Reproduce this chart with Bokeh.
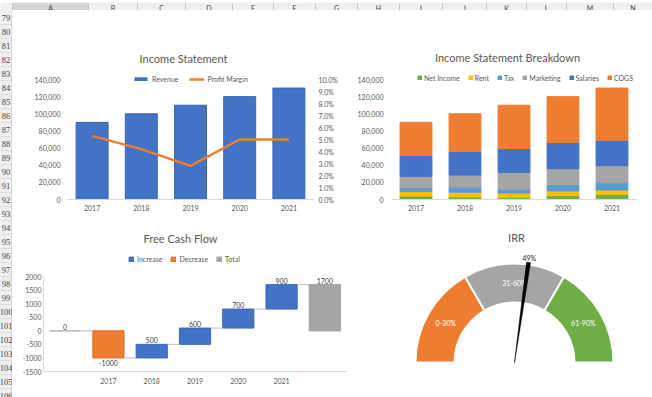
import math
from bokeh.plotting import figure
from bokeh.models import (Range1d, FactorRange, LinearAxis, FixedTicker, NumeralTickFormatter,
                          PrintfTickFormatter, Legend, LegendItem, Label, ColumnDataSource)
from bokeh.layouts import row, column
from bokeh.embed import file_html
from bokeh.resources import INLINE
from bokeh.core.properties import value

# ---------------- data ----------------
years = ["2017", "2018", "2019", "2020", "2021"]
revenue = [90000, 100000, 110000, 120000, 130000]
profit_margin = [5.3, 4.2, 2.8, 5.0, 5.0]          # percent

breakdown_series = ["Net Income", "Rent", "Tax", "Marketing", "Salaries", "COGS"]
net_income = [4000, 3000, 2500, 4500, 6000]
rent = [5500, 5500, 5000, 5500, 5000]
tax = [4500, 6000, 4500, 7500, 8500]
marketing = [13000, 14000, 19500, 18500, 20000]
salaries = [24500, 27500, 28000, 30500, 29500]
cogs = [38500, 44000, 50500, 53500, 61000]

fcf_labels = ["", "2017", "2018", "2019", "2020", "2021", ""]
fcf_start = 0
fcf_changes = [-1000, 500, 600, 700, 900]

irr_bands = ["0-30%", "31-60%", "61-90%"]
irr_band_sizes = [30, 30, 30]
irr_value = 49

col_letters = ["A", "B", "C", "D", "E", "F", "G", "H", "I", "J", "K", "L", "M", "N"]
row_numbers = list(range(79, 107))

# ---------------- style ----------------
FONT = "Lato"
TXT = "#595959"
BLUE, ORANGE, GRAY, YELLOW, LBLUE, GREEN = "#4472C4", "#ED7D31", "#A5A5A5", "#FFC000", "#5B9BD5", "#70AD47"
AXLINE = "#D9D9D9"
COL_EDGES = [12, 88, 137, 185, 232, 273, 315, 357, 399, 442, 486, 526, 566, 613, 652]

W_L, W_R, H_T, H_B = 338, 302, 212, 175
TOP_BOTTOM_BORDER = 23      # px below the top charts' frame
TOP_SCALE_PX = 120          # px between 0 and 140,000 in the top charts
FCF_BOTTOM_BORDER = 26
FCF_SCALE_PX = 95           # px between -1500 and 2000
TITLE_SIZE = "11px"


def style_axis(ax, standoff, line_color=None):
    ax.major_tick_line_color = None
    ax.minor_tick_line_color = None
    ax.major_tick_in = 0
    ax.major_tick_out = 0
    ax.minor_tick_out = 0
    ax.axis_line_color = line_color
    ax.major_label_text_font = FONT
    ax.major_label_text_font_size = "7px"
    ax.major_label_text_color = TXT
    ax.major_label_standoff = standoff


def base_fig(**kw):
    p = figure(output_backend="svg", toolbar_location=None, outline_line_color=None,
               background_fill_color="white", border_fill_color="white", frame_align=False, **kw)
    p.xgrid.visible = False
    p.ygrid.visible = False
    return p


def title_label(p, text, x, y, size=TITLE_SIZE):
    p.add_layout(Label(x=x, y=y, x_units="screen", y_units="screen", text=text,
                       text_align="center", text_baseline="middle", text_font=FONT,
                       text_font_size=size, text_color=TXT))


def make_legend(items, x, y, gw, gh, spacing, standoff):
    lg = Legend(items=items, orientation="horizontal", location=(x, y))
    lg.border_line_color = None
    lg.background_fill_alpha = 0
    lg.padding = 0
    lg.margin = 0
    lg.spacing = spacing
    lg.label_standoff = standoff
    lg.glyph_width = gw
    lg.glyph_height = gh
    lg.label_height = 9
    lg.label_width = 0
    lg.label_text_font = FONT
    lg.label_text_font_size = "7px"
    lg.label_text_color = TXT
    return lg


# frame of the top charts spans the whole height above the axis, so texts above the bars are not clipped
top_frame_h = H_T - TOP_BOTTOM_BORDER
top_y_end = 140000 * top_frame_h / TOP_SCALE_PX

# ---------------- Income Statement ----------------
p1 = base_fig(width=W_L, height=H_T, x_range=FactorRange(*years), y_range=Range1d(0, top_y_end),
              min_border_left=55, min_border_right=37, min_border_top=0, min_border_bottom=TOP_BOTTOM_BORDER)
p1.extra_y_ranges = {"pm": Range1d(0, 10 * top_frame_h / TOP_SCALE_PX)}
r_rev = p1.vbar(x=years, top=revenue, width=0.65, fill_color=BLUE, line_color="#3A66B5")
r_pm = p1.line(x=years, y=profit_margin, y_range_name="pm", line_color=ORANGE, line_width=2.5)
p1.yaxis.ticker = FixedTicker(ticks=list(range(0, 140001, 20000)))
p1.yaxis.formatter = NumeralTickFormatter(format="0,0")
style_axis(p1.yaxis[0], 7)
style_axis(p1.xaxis[0], 5, AXLINE)
ax_r = LinearAxis(y_range_name="pm", ticker=FixedTicker(ticks=list(range(0, 11))),
                  formatter=PrintfTickFormatter(format="%.1f%%"))
style_axis(ax_r, 5)
p1.add_layout(ax_r, "right")
p1.add_layout(make_legend([LegendItem(label="Revenue", renderers=[r_rev]),
                           LegendItem(label="Profit Margin", renderers=[r_pm])],
                          66, 116, 15, 4, 10, 4))
title_label(p1, "Income Statement", 116, 141)

# ---------------- Income Statement Breakdown ----------------
src2 = ColumnDataSource(dict(years=years, **{"Net Income": net_income, "Rent": rent, "Tax": tax,
                                             "Marketing": marketing, "Salaries": salaries, "COGS": cogs}))
p2 = base_fig(width=W_R, height=H_T, x_range=FactorRange(*years), y_range=Range1d(0, top_y_end),
              min_border_left=41, min_border_right=16, min_border_top=0, min_border_bottom=TOP_BOTTOM_BORDER)
rs = p2.vbar_stack(breakdown_series, x="years", width=0.65, source=src2,
                   color=[GREEN, YELLOW, LBLUE, GRAY, BLUE, ORANGE])
p2.yaxis.ticker = FixedTicker(ticks=list(range(0, 140001, 20000)))
p2.yaxis.formatter = NumeralTickFormatter(format="0,0")
style_axis(p2.yaxis[0], 8)
style_axis(p2.xaxis[0], 5, AXLINE)
p2.add_layout(make_legend([LegendItem(label=s, renderers=[r]) for s, r in zip(breakdown_series, rs)],
                          26, 117, 5, 5, 8, 2))
title_label(p2, "Income Statement Breakdown", 116, 142)

# ---------------- Free Cash Flow ----------------
levels = [fcf_start]
for c in fcf_changes:
    levels.append(levels[-1] + c)
total = levels[-1]
n = len(fcf_labels)
fcf_frame_h = H_B - FCF_BOTTOM_BORDER
fcf_y_end = -1500 + 3500 * fcf_frame_h / FCF_SCALE_PX
p3 = base_fig(width=W_L, height=H_B, x_range=Range1d(-0.5, n - 0.5), y_range=Range1d(-1500, fcf_y_end),
              min_border_left=31, min_border_right=4, min_border_top=0, min_border_bottom=FCF_BOTTOM_BORDER)
inc_x, inc_b, inc_t, dec_x, dec_b, dec_t = [], [], [], [], [], []
for i, c in enumerate(fcf_changes):
    if c >= 0:
        inc_x.append(i + 1); inc_b.append(levels[i]); inc_t.append(levels[i + 1])
    else:
        dec_x.append(i + 1); dec_b.append(levels[i]); dec_t.append(levels[i + 1])
BW = 0.72
r_inc = p3.vbar(x=inc_x, bottom=inc_b, top=inc_t, width=BW, fill_color=BLUE, line_color="#3A66B5")
r_dec = p3.vbar(x=dec_x, bottom=dec_b, top=dec_t, width=BW, fill_color=ORANGE, line_color="#D96C25")
r_tot = p3.vbar(x=[0, n - 1], bottom=[0, 0], top=[fcf_start, total], width=BW,
                fill_color=GRAY, line_color=GRAY, line_width=1.2)
conn_y = list(levels)
p3.segment(x0=[i + BW / 2 for i in range(n - 1)], x1=[i + 1 - BW / 2 for i in range(n - 1)],
           y0=conn_y, y1=conn_y, line_color="#BFBFBF", line_width=1)
# data labels
all_vals = [fcf_start] + fcf_changes + [total]
up_x, up_y, up_t, dn_x, dn_y, dn_t = [], [], [], [], [], []
for i, v in enumerate(all_vals):
    if i == 0:
        top, bot = max(0, fcf_start), min(0, fcf_start)
    elif i == n - 1:
        top, bot = max(0, total), min(0, total)
    else:
        top, bot = max(levels[i - 1], levels[i]), min(levels[i - 1], levels[i])
    if v >= 0:
        up_x.append(i); up_y.append(top); up_t.append(str(v))
    else:
        dn_x.append(i); dn_y.append(bot); dn_t.append(str(v))
p3.text(x=up_x, y=up_y, text=up_t, text_align="center", text_baseline="bottom", y_offset=-1,
        text_font=value(FONT), text_font_size="7px", text_color="#404040")
p3.text(x=dn_x, y=dn_y, text=dn_t, text_align="center", text_baseline="top", y_offset=2,
        text_font=value(FONT), text_font_size="7px", text_color="#404040")
p3.yaxis.ticker = FixedTicker(ticks=list(range(-1500, 2001, 500)))
p3.yaxis.formatter = NumeralTickFormatter(format="0")
p3.yaxis.bounds = (-1500, 2000)
p3.xaxis.ticker = FixedTicker(ticks=list(range(n)))
p3.xaxis.major_label_overrides = {i: lab for i, lab in enumerate(fcf_labels)}
style_axis(p3.yaxis[0], 2, AXLINE)
style_axis(p3.xaxis[0], 6, AXLINE)
p3.add_layout(make_legend([LegendItem(label="Increase", renderers=[r_inc]),
                           LegendItem(label="Decrease", renderers=[r_dec]),
                           LegendItem(label="Total", renderers=[r_tot])],
                          85, 108, 6, 6, 8, 3))
title_label(p3, "Free Cash Flow", 137, 133)

# ---------------- IRR gauge ----------------
p4 = base_fig(width=W_R, height=H_B, x_range=Range1d(-164, 138), y_range=Range1d(-35, 140),
              x_axis_type=None, y_axis_type=None, min_border=0)
span = float(sum(irr_band_sizes))
starts, ends, mids = [], [], []
acc = 0
for s in irr_band_sizes:
    a0 = math.pi * (1 - acc / span)
    a1 = math.pi * (1 - (acc + s) / span)
    starts.append(a1); ends.append(a0); mids.append((a0 + a1) / 2)
    acc += s
R_IN, R_OUT = 60, 99
p4.annular_wedge(x=0, y=0, inner_radius=R_IN, outer_radius=R_OUT, start_angle=starts, end_angle=ends,
                 fill_color=[ORANGE, GRAY, GREEN], line_color="white", line_width=2)
rm = (R_IN + R_OUT) / 2
p4.text(x=[rm * math.cos(a) for a in mids], y=[rm * math.sin(a) for a in mids], text=irr_bands,
        text_align="center", text_baseline="middle", text_font=value(FONT), text_font_size="7px",
        text_color="white")
th = math.pi * (1 - irr_value / span)
d = 0.02
p4.patch(x=[0, 101 * math.cos(th - d), 101 * math.cos(th + d)],
         y=[0, 101 * math.sin(th - d), 101 * math.sin(th + d)], fill_color="black", line_color="black",
         line_width=0.5)
p4.text(x=[106 * math.cos(th)], y=[106 * math.sin(th)], text=[f"{irr_value}%"], text_align="center",
        text_baseline="middle", text_font=value(FONT), text_font_size="7px", text_color="#262626")
title_label(p4, "IRR", 166, 160)

# ---------------- spreadsheet headers ----------------
hdr = figure(width=652, height=10, x_range=Range1d(0, 652), y_range=Range1d(10, 0),
             x_axis_type=None, y_axis_type=None, min_border=0, output_backend="svg",
             toolbar_location=None, outline_line_color=None, frame_align=False)
hdr.xgrid.visible = False
hdr.ygrid.visible = False
hdr.quad(left=[0], right=[652], top=[0], bottom=[10], fill_color="#EFEFEF", line_color=None)
fills = ["#D4D4D4"] + ["#EFEFEF"] * (len(col_letters) - 1)
hdr.quad(left=COL_EDGES[:-1], right=COL_EDGES[1:], top=0, bottom=10, fill_color=fills, line_color=None)
hdr.segment(x0=COL_EDGES, x1=COL_EDGES, y0=1, y1=9, line_color="#C6C6C6", line_width=1)
hdr.segment(x0=[0], x1=[652], y0=[9.5], y1=[9.5], line_color="#C6C6C6", line_width=1)
hdr.segment(x0=[COL_EDGES[0]], x1=[COL_EDGES[1]], y0=[9], y1=[9], line_color="#217346", line_width=2)
hdr.text(x=[(a + b) / 2 for a, b in zip(COL_EDGES[:-1], COL_EDGES[1:])], y=5, text=col_letters,
         text_align="center", text_baseline="middle", text_font=value(FONT), text_font_size="7px",
         text_color="#444444")

rh = figure(width=12, height=387, x_range=Range1d(0, 12), y_range=Range1d(397, 10),
            x_axis_type=None, y_axis_type=None, min_border=0, output_backend="svg",
            toolbar_location=None, outline_line_color=None, frame_align=False)
rh.xgrid.visible = False
rh.ygrid.visible = False
row_tops = [10 + 14 * k for k in range(len(row_numbers))]
rh.quad(left=0, right=11, top=row_tops, bottom=[t + 14 for t in row_tops], fill_color="#EFEFEF",
        line_color="#D4D4D4", line_width=0.6)
rh.segment(x0=[11.5], x1=[11.5], y0=[10], y1=[397], line_color="#C6C6C6", line_width=1)
rh.text(x=5.5, y=[t + 7 for t in row_tops], text=[str(r) for r in row_numbers], text_align="center",
        text_baseline="middle", text_font=value("Liberation Sans Narrow"), text_font_size="8.5px",
        text_color="#444444")

layout = column(hdr, row(rh, column(row(p1, p2), row(p3, p4))))
open("out.html", "w").write(file_html(layout, INLINE))
